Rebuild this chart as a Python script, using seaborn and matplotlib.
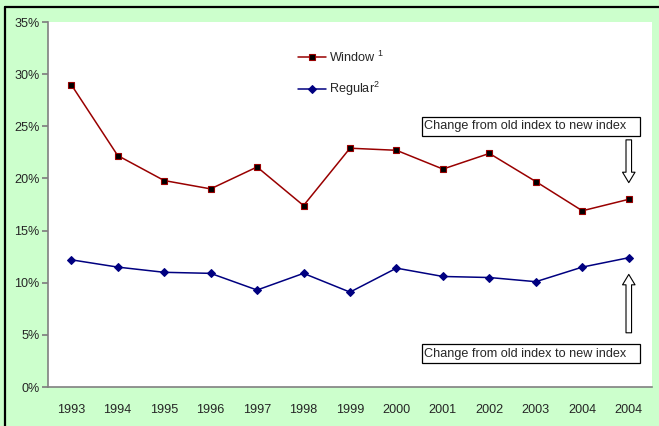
import numpy as np
import pandas as pd
import seaborn as sns
import matplotlib.pyplot as plt
from matplotlib.lines import Line2D
from matplotlib.patches import Rectangle
from matplotlib.ticker import PercentFormatter

years = ["1993", "1994", "1995", "1996", "1997", "1998", "1999",
         "2000", "2001", "2002", "2003", "2004", "2004"]
window = [29.0, 22.2, 19.8, 19.0, 21.1, 17.4, 22.9, 22.7, 20.9, 22.4, 19.7, 16.9, 18.0]
regular = [12.2, 11.5, 11.0, 10.9, 9.3, 10.9, 9.1, 11.4, 10.6, 10.5, 10.1, 11.5, 12.4]
note = "Change from old index to new index"

sns.set_theme(style="white")
plt.rcParams["font.family"] = ["Liberation Sans", "DejaVu Sans"]
plt.rcParams["mathtext.fontset"] = "custom"
plt.rcParams["mathtext.rm"] = "Liberation Sans"
plt.rcParams["mathtext.it"] = "Liberation Sans"
plt.rcParams["mathtext.default"] = "rm"
fs = 9.1

pos = np.arange(len(years))
df = pd.DataFrame({"pos": pos, "Window": window, "Regular": regular})

fig = plt.figure(figsize=(6.59, 4.26), dpi=100, facecolor="#CCFFCC")
ax = fig.add_axes([0.0728, 0.0915, 0.9166, 0.8568])
ax.set_facecolor("white")

sns.lineplot(data=df, x="pos", y="Window", ax=ax, color="#990000", lw=1.1,
             marker="s", markersize=5, markerfacecolor="black",
             markeredgecolor="#990000", markeredgewidth=0.8, label="Window $^{1}$")
sns.lineplot(data=df, x="pos", y="Regular", ax=ax, color="#000080", lw=1.1,
             marker="D", markersize=4.5, markerfacecolor="#000080",
             markeredgecolor="#000080", label="Regular$^{2}$")

ax.set_xlim(-0.5, len(years) - 0.5)
ax.set_ylim(0, 35)
ax.set_yticks(range(0, 36, 5))
ax.yaxis.set_major_formatter(PercentFormatter(100, decimals=0))
ax.set_xticks(pos)
ax.set_xticklabels(years)
ax.set_xlabel("")
ax.set_ylabel("")
ax.tick_params(axis="y", which="both", left=True, length=4, color="#808080",
               labelsize=fs, pad=2, direction="out")
ax.tick_params(axis="x", bottom=False, labelsize=fs, pad=6)
for side in ["top", "right"]:
    ax.spines[side].set_visible(False)
for side in ["left", "bottom"]:
    ax.spines[side].set_color("#808080")
    ax.spines[side].set_linewidth(1.2)

ax.legend(loc="upper left", bbox_to_anchor=(0.414, 0.925), frameon=False,
          fontsize=fs, borderpad=0, borderaxespad=0, handlelength=2.2,
          handletextpad=0.25, labelspacing=1.2)

# annotation boxes
for y0 in [0.688, 0.0658]:
    ax.add_patch(Rectangle((0.619, y0), 0.361, 0.052, transform=ax.transAxes,
                           fill=False, edgecolor="black", lw=0.9, zorder=5))
    ax.text(0.623, y0 + 0.026, note, transform=ax.transAxes, fontsize=fs,
            va="center", ha="left", zorder=6)

arrow = dict(arrowstyle="simple,head_width=0.9,head_length=0.75,tail_width=0.4",
             fc="white", ec="black", lw=0.8, mutation_scale=10,
             shrinkA=0, shrinkB=0)
last = len(years) - 1
ax.annotate("", xy=(last, 19.6), xytext=(last, 23.7), arrowprops=arrow)
ax.annotate("", xy=(last, 10.8), xytext=(last, 5.2), arrowprops=arrow)

# chart border (top and left)
fig.add_artist(Line2D([0.0076, 1.0], [0.984, 0.984], transform=fig.transFigure,
                      color="black", lw=1.6))
fig.add_artist(Line2D([0.0076, 0.0076], [0.0, 0.984], transform=fig.transFigure,
                      color="black", lw=1.6))

fig.savefig("out.png", dpi=100, facecolor=fig.get_facecolor())
